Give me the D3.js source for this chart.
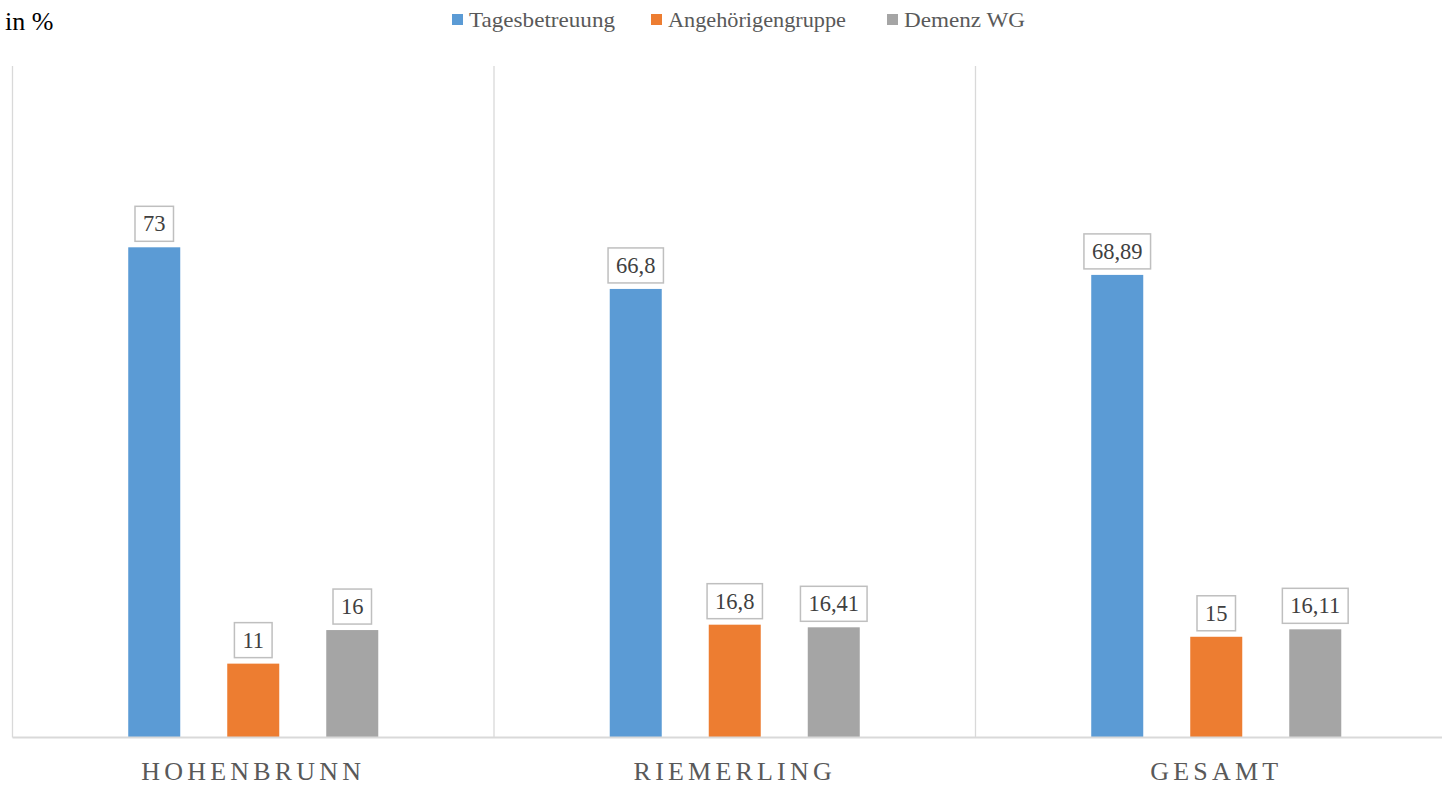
<!DOCTYPE html>
<html><head><meta charset="utf-8">
<script src="https://cdn.jsdelivr.net/npm/d3@7"></script>
<style>body{margin:0;background:#fff;}svg{display:block;}</style>
</head><body>
<svg id="chart" width="1442" height="785"></svg>
<script>
const categories = ["HOHENBRUNN", "RIEMERLING", "GESAMT"];
const seriesNames = ["Tagesbetreuung", "Angehörigengruppe", "Demenz WG"];
const tagesbetreuung = [73, 66.8, 68.89];
const angehoerigengruppe = [11, 16.8, 15];
const demenzWG = [16, 16.41, 16.11];
const colors = ["#5B9BD5", "#ED7D31", "#A5A5A5"];
const yMax = 100;

const seriesValues = [tagesbetreuung, angehoerigengruppe, demenzWG];
const svg = d3.select("#chart");
const margin = {left: 12.5, right: -15, top: 66, bottom: 47.5};
const W = 1442, H = 785;
const x0 = d3.scaleBand().domain(categories).range([margin.left, W - margin.right]).padding(0);
const x1 = d3.scaleBand().domain(seriesNames).range([0, x0.bandwidth()]).paddingInner(0.4747).paddingOuter(1.169);
const y = d3.scaleLinear().domain([0, yMax]).range([H - margin.bottom, margin.top]);
const fmt = v => String(v).replace(".", ",");
const serif = "'Liberation Serif','Times New Roman',serif";

// vertical separators
const seps = categories.map(c => x0(c)).concat([x0(categories[categories.length-1]) + x0.bandwidth()]);
svg.selectAll("line.sep").data(seps).enter().append("line")
  .attr("x1", d => d).attr("x2", d => d)
  .attr("y1", y(yMax)).attr("y2", y(0))
  .attr("stroke", "#d9d9d9").attr("stroke-width", 1.3);

// bars
const data = [];
categories.forEach((c, i) => seriesNames.forEach((s, j) => data.push({c, s, j, v: seriesValues[j][i]})));
svg.selectAll("rect.bar").data(data).enter().append("rect")
  .attr("x", d => x0(d.c) + x1(d.s))
  .attr("width", x1.bandwidth())
  .attr("y", d => y(d.v))
  .attr("height", d => y(0) - y(d.v))
  .attr("fill", d => colors[d.j]);

// baseline
svg.append("line").attr("x1", margin.left).attr("x2", W).attr("y1", y(0)).attr("y2", y(0))
  .attr("stroke", "#d9d9d9").attr("stroke-width", 2);

// data labels with boxes
const lab = svg.selectAll("g.lab").data(data).enter().append("g");
lab.each(function(d) {
  const g = d3.select(this);
  const cx = x0(d.c) + x1(d.s) + x1.bandwidth() / 2;
  const bottom = y(d.v) - 6;
  const t = g.append("text").attr("x", cx).attr("y", bottom - 10)
    .attr("text-anchor", "middle").attr("font-family", serif).attr("font-size", 22.5)
    .attr("fill", "#404040").text(fmt(d.v));
  const bb = t.node().getBBox();
  const w = bb.width + 16;
  g.insert("rect", "text").attr("x", cx - w / 2).attr("y", bottom - 35).attr("width", w).attr("height", 35)
    .attr("fill", "#fff").attr("stroke", "#bfbfbf").attr("stroke-width", 1.5);
});

// category axis
const xAxis = d3.axisBottom(x0).tickSize(0).tickPadding(0);
const ax = svg.append("g").attr("transform", `translate(0,${y(0)})`).call(xAxis);
ax.select(".domain").remove();
ax.selectAll("text").attr("font-family", serif).attr("font-size", 26).attr("fill", "#595959")
  .attr("letter-spacing", "4.2px").attr("dy", 0).attr("y", 42);

// y title
svg.append("text").attr("x", 5).attr("y", 30).attr("font-family", serif).attr("font-size", 26)
  .attr("fill", "#000").text("in %");

// legend
const legendX = [452, 651, 887];
const legendW = [146, 178, 121];
const leg = svg.selectAll("g.leg").data(seriesNames).enter().append("g")
  .attr("transform", (d, i) => `translate(${legendX[i]},0)`);
leg.append("rect").attr("x", 0).attr("y", 14).attr("width", 11).attr("height", 11).attr("fill", (d, i) => colors[i]);
leg.append("text").attr("x", 17).attr("y", 26.5).attr("font-family", serif).attr("font-size", 22)
  .attr("textLength", (d, i) => legendW[i]).attr("lengthAdjust", "spacingAndGlyphs")
  .attr("fill", "#595959").text(d => d);
</script>
</body></html>
